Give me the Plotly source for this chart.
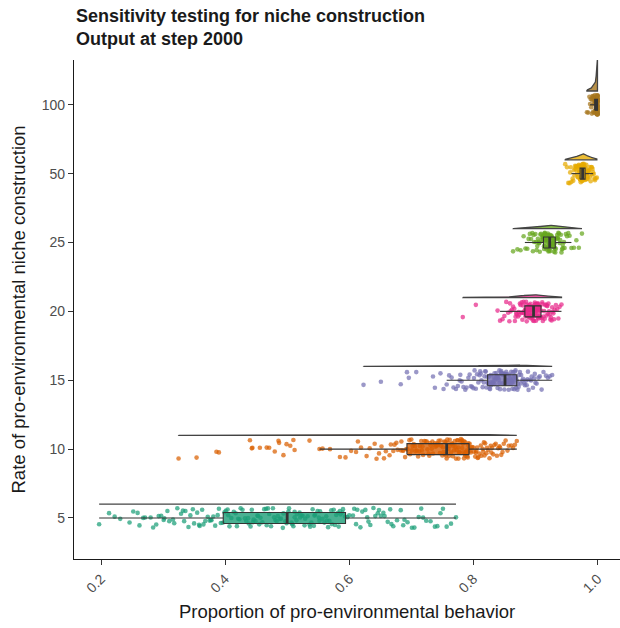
import numpy as np
import plotly.graph_objects as go

categories = ["5", "10", "15", "20", "25", "50", "100"]
colors = ["#1B9E77", "#D95F02", "#7570B3", "#E7298A", "#66A61E", "#E6AB02", "#A6761D"]

# boxplot statistics
box_lower = [0.197, 0.552, 0.757, 0.843, 0.883, 0.958, 0.988]
box_q1 = [0.397, 0.693, 0.823, 0.883, 0.913, 0.972, 0.9955]
box_median = [0.500, 0.757, 0.851, 0.897, 0.923, 0.976, 0.998]
box_q3 = [0.594, 0.793, 0.870, 0.909, 0.932, 0.980, 1.000]
box_upper = [0.772, 0.870, 0.927, 0.942, 0.958, 0.993, 1.000]

# individual runs (proportion of pro-environmental behavior), estimated
g5 = [0.197, 0.213, 0.222, 0.231, 0.246, 0.252, 0.259, 0.268, 0.271, 0.280, 0.284, 0.293, 0.297, 0.301, 0.307,
      0.310, 0.316, 0.318, 0.323, 0.329, 0.332, 0.336, 0.341, 0.344, 0.348, 0.350, 0.355, 0.358, 0.363, 0.365,
      0.368, 0.372, 0.375, 0.377, 0.381, 0.384, 0.388, 0.390, 0.393, 0.396, 0.399, 0.401, 0.405, 0.407, 0.410,
      0.414, 0.417, 0.419, 0.423, 0.425, 0.428, 0.432, 0.434, 0.437, 0.441, 0.443, 0.445, 0.449, 0.452, 0.453,
      0.457, 0.460, 0.463, 0.466, 0.467, 0.471, 0.474, 0.477, 0.479, 0.481, 0.485, 0.488, 0.490, 0.493, 0.494,
      0.497, 0.499, 0.502, 0.503, 0.507, 0.510, 0.512, 0.515, 0.516, 0.520, 0.523, 0.525, 0.528, 0.529, 0.533,
      0.536, 0.539, 0.541, 0.544, 0.545, 0.549, 0.552, 0.553, 0.557, 0.560, 0.563, 0.566, 0.568, 0.571, 0.572,
      0.575, 0.579, 0.582, 0.583, 0.586, 0.590, 0.593, 0.597, 0.600, 0.606, 0.608, 0.613, 0.618, 0.621, 0.626,
      0.631, 0.634, 0.639, 0.642, 0.646, 0.651, 0.655, 0.657, 0.662, 0.668, 0.671, 0.677, 0.683, 0.689, 0.694,
      0.701, 0.705, 0.712, 0.719, 0.724, 0.731, 0.738, 0.742, 0.751, 0.757, 0.764, 0.772,
      0.302, 0.334, 0.359, 0.378, 0.404, 0.421, 0.438, 0.455, 0.469, 0.483, 0.508, 0.521, 0.537, 0.551, 0.564,
      0.577, 0.589, 0.611, 0.629, 0.648, 0.666, 0.687, 0.716, 0.747, 0.262, 0.289, 0.446, 0.512, 0.543, 0.585]
g10 = [0.325, 0.354, 0.386, 0.390, 0.440, 0.443, 0.444, 0.456, 0.467, 0.471, 0.480, 0.486, 0.487, 0.494, 0.499,
       0.505, 0.510, 0.512, 0.536, 0.552, 0.557, 0.569, 0.585, 0.594, 0.603, 0.614, 0.619, 0.628, 0.633, 0.641,
       0.644, 0.652, 0.656, 0.659, 0.665, 0.667, 0.673, 0.676, 0.678, 0.683, 0.686, 0.687, 0.690, 0.692, 0.694,
       0.697, 0.698, 0.700, 0.702, 0.704, 0.706, 0.707, 0.709, 0.711, 0.713, 0.714, 0.716, 0.718, 0.719, 0.721,
       0.723, 0.725, 0.726, 0.728, 0.730, 0.731, 0.733, 0.735, 0.736, 0.738, 0.739, 0.741, 0.742, 0.744, 0.746,
       0.747, 0.748, 0.750, 0.751, 0.753, 0.754, 0.755, 0.756, 0.757, 0.758, 0.759, 0.760, 0.762, 0.762, 0.764,
       0.765, 0.766, 0.767, 0.768, 0.769, 0.771, 0.772, 0.773, 0.774, 0.775, 0.776, 0.777, 0.778, 0.779, 0.780,
       0.781, 0.782, 0.782, 0.784, 0.785, 0.785, 0.786, 0.787, 0.788, 0.789, 0.789, 0.790, 0.791, 0.791, 0.792,
       0.792, 0.793, 0.794, 0.796, 0.797, 0.798, 0.800, 0.801, 0.803, 0.804, 0.805, 0.807, 0.808, 0.810, 0.812,
       0.813, 0.815, 0.816, 0.818, 0.819, 0.821, 0.822, 0.824, 0.826, 0.828, 0.830, 0.832, 0.834, 0.836, 0.838,
       0.840, 0.842, 0.845, 0.847, 0.849, 0.852, 0.855, 0.857, 0.861, 0.864, 0.867, 0.870,
       0.611, 0.648, 0.671, 0.684, 0.701, 0.717, 0.729, 0.743, 0.761, 0.770, 0.783, 0.795, 0.806, 0.817, 0.829,
       0.843, 0.776, 0.787, 0.752, 0.734]
g15 = [0.623, 0.651, 0.683, 0.693, 0.696, 0.708, 0.735, 0.738, 0.747, 0.752, 0.757, 0.761, 0.765, 0.768, 0.772,
       0.775, 0.778, 0.781, 0.784, 0.787, 0.789, 0.792, 0.794, 0.796, 0.798, 0.800, 0.802, 0.804, 0.806, 0.808,
       0.810, 0.812, 0.813, 0.815, 0.817, 0.818, 0.820, 0.821, 0.822, 0.823, 0.824, 0.825, 0.826, 0.827, 0.828,
       0.829, 0.830, 0.831, 0.832, 0.833, 0.834, 0.835, 0.836, 0.837, 0.837, 0.838, 0.839, 0.840, 0.841, 0.842,
       0.842, 0.843, 0.844, 0.845, 0.846, 0.846, 0.847, 0.848, 0.849, 0.850, 0.850, 0.851, 0.852, 0.852, 0.853,
       0.854, 0.854, 0.855, 0.856, 0.856, 0.857, 0.858, 0.858, 0.859, 0.860, 0.860, 0.861, 0.862, 0.862, 0.863,
       0.864, 0.864, 0.865, 0.866, 0.866, 0.867, 0.868, 0.868, 0.869, 0.870, 0.871, 0.872, 0.873, 0.875, 0.876,
       0.877, 0.879, 0.880, 0.882, 0.883, 0.885, 0.886, 0.888, 0.889, 0.891, 0.893, 0.894, 0.896, 0.898, 0.900,
       0.902, 0.905, 0.907, 0.910, 0.913, 0.917, 0.920, 0.923, 0.927,
       0.779, 0.801, 0.819, 0.834, 0.845, 0.853, 0.862, 0.874, 0.887, 0.899, 0.811, 0.828, 0.839, 0.857, 0.869]
g20 = [0.783, 0.804, 0.839, 0.843, 0.847, 0.850, 0.853, 0.856, 0.858, 0.860, 0.862, 0.864, 0.866, 0.867, 0.869,
       0.870, 0.872, 0.873, 0.874, 0.875, 0.876, 0.877, 0.878, 0.879, 0.880, 0.881, 0.881, 0.882, 0.883, 0.883,
       0.884, 0.885, 0.885, 0.886, 0.886, 0.887, 0.888, 0.888, 0.889, 0.889, 0.890, 0.890, 0.891, 0.891, 0.892,
       0.892, 0.893, 0.893, 0.894, 0.894, 0.895, 0.895, 0.896, 0.896, 0.897, 0.897, 0.898, 0.898, 0.899, 0.899,
       0.900, 0.900, 0.901, 0.901, 0.902, 0.902, 0.903, 0.903, 0.904, 0.904, 0.905, 0.905, 0.906, 0.906, 0.907,
       0.907, 0.908, 0.908, 0.909, 0.910, 0.911, 0.912, 0.913, 0.914, 0.915, 0.916, 0.917, 0.918, 0.919, 0.920,
       0.921, 0.922, 0.923, 0.924, 0.925, 0.926, 0.927, 0.928, 0.930, 0.931, 0.933, 0.935, 0.937, 0.939, 0.942,
       0.868, 0.879, 0.887, 0.893, 0.899, 0.904, 0.911, 0.919, 0.929, 0.859]
g25 = [0.864, 0.871, 0.876, 0.881, 0.884, 0.887, 0.889, 0.891, 0.893, 0.895, 0.897, 0.898, 0.900, 0.901, 0.903,
       0.904, 0.905, 0.906, 0.907, 0.908, 0.909, 0.910, 0.911, 0.912, 0.912, 0.913, 0.914, 0.914, 0.915, 0.915,
       0.916, 0.916, 0.917, 0.917, 0.918, 0.918, 0.919, 0.919, 0.920, 0.920, 0.921, 0.921, 0.922, 0.922, 0.923,
       0.923, 0.924, 0.924, 0.925, 0.925, 0.926, 0.926, 0.927, 0.927, 0.928, 0.928, 0.929, 0.929, 0.930, 0.930,
       0.931, 0.931, 0.932, 0.933, 0.934, 0.935, 0.936, 0.937, 0.938, 0.939, 0.940, 0.941, 0.942, 0.943, 0.944,
       0.946, 0.947, 0.949, 0.951, 0.953, 0.955, 0.958, 0.962, 0.966, 0.970, 0.975,
       0.896, 0.906, 0.913, 0.918, 0.924, 0.929, 0.936, 0.944, 0.902, 0.931]
g50 = [0.948, 0.951, 0.953, 0.955, 0.957, 0.958, 0.960, 0.961, 0.962, 0.963, 0.964, 0.965, 0.966, 0.966, 0.967,
       0.968, 0.968, 0.969, 0.970, 0.970, 0.971, 0.971, 0.972, 0.972, 0.972, 0.973, 0.973, 0.973, 0.974, 0.974,
       0.974, 0.975, 0.975, 0.975, 0.975, 0.976, 0.976, 0.976, 0.976, 0.977, 0.977, 0.977, 0.977, 0.978, 0.978,
       0.978, 0.979, 0.979, 0.979, 0.980, 0.980, 0.980, 0.981, 0.981, 0.982, 0.982, 0.983, 0.983, 0.984, 0.985,
       0.985, 0.986, 0.987, 0.988, 0.989, 0.990, 0.991, 0.992, 0.993, 0.995, 0.997, 0.999,
       0.956, 0.964, 0.969, 0.984, 0.987, 0.991, 0.994, 0.996]
g100 = [0.983, 0.985, 0.987, 0.988, 0.989, 0.990, 0.991, 0.991, 0.992, 0.992, 0.993, 0.993, 0.994, 0.994, 0.994,
        0.995, 0.995, 0.995, 0.996, 0.996, 0.996, 0.997, 0.997, 0.997, 0.997, 0.998, 0.998, 0.998, 0.998, 0.998,
        0.999, 0.999, 0.999, 0.999, 0.999, 0.999, 1.000, 1.000, 1.000, 1.000, 1.000, 1.000, 1.000, 1.000, 1.000,
        1.000, 1.000, 1.000, 1.000, 1.000, 1.000, 1.000, 1.000, 1.000, 1.000, 1.000, 1.000, 1.000, 1.000, 1.000,
        1.000, 1.000, 1.000, 1.000, 1.000, 1.000, 1.000, 1.000, 1.000, 1.000, 1.000, 1.000]
groups = [g5, g10, g15, g20, g25, g50, g100]


def rgba(hex_color, a):
    h = hex_color.lstrip("#")
    r, g, b = int(h[0:2], 16), int(h[2:4], 16), int(h[4:6], 16)
    return f"rgba({r},{g},{b},{a})"


def kde(values, grid):
    v = np.asarray(values, dtype=float)
    n = len(v)
    sd = v.std(ddof=1)
    iqr = np.subtract(*np.percentile(v, [75, 25]))
    lo = min(sd, iqr / 1.34) if iqr > 0 else sd
    bw = 0.9 * lo * n ** (-0.2)
    z = (grid[:, None] - v[None, :]) / bw
    return np.exp(-0.5 * z ** 2).sum(axis=1) / (n * bw * np.sqrt(2 * np.pi))


VIOLIN_NUDGE = 0.2
VIOLIN_MAX = 0.45
BOX_HALF = 0.08
JITTER = 0.145

grids, dens = [], []
for vals in groups:
    gx = np.linspace(min(vals), max(vals), 400)
    grids.append(gx)
    dens.append(kde(vals, gx))
dmax = max(d.max() for d in dens)

fig = go.Figure()

# flat (half) violins
for i, (gx, d) in enumerate(zip(grids, dens)):
    base = i + 1 + VIOLIN_NUDGE
    h = d / dmax * VIOLIN_MAX
    xs = np.concatenate([gx, gx[::-1], gx[:1]])
    ys = np.concatenate([base + h, np.full(len(gx), base), [base + h[0]]])
    fig.add_trace(go.Scatter(x=xs, y=ys, mode="lines", fill="toself",
                             fillcolor=rgba(colors[i], 0.8),
                             line=dict(color="#444444", width=1.3),
                             hoverinfo="skip", showlegend=False))

# jittered points (deterministic hash-based jitter)
for i, vals in enumerate(groups):
    k = np.arange(len(vals), dtype=float)
    u = np.sin(k * 12.9898 + (i + 1) * 78.233) * 43758.5453
    u = u - np.floor(u)
    offs = (u - 0.5) * 2 * JITTER
    fig.add_trace(go.Scatter(x=vals, y=i + 1 + offs, mode="markers",
                             marker=dict(color=colors[i], size=4.6, opacity=0.72, line=dict(width=0)),
                             showlegend=False, hoverinfo="skip"))

# boxplots
for i in range(len(categories)):
    y0 = i + 1
    fig.add_trace(go.Scatter(x=[box_lower[i], box_q1[i], None, box_q3[i], box_upper[i]],
                             y=[y0, y0, None, y0, y0], mode="lines",
                             line=dict(color="#333333", width=1.1),
                             showlegend=False, hoverinfo="skip"))
    fig.add_trace(go.Scatter(x=[box_q1[i], box_q3[i], box_q3[i], box_q1[i], box_q1[i]],
                             y=[y0 - BOX_HALF, y0 - BOX_HALF, y0 + BOX_HALF, y0 + BOX_HALF, y0 - BOX_HALF],
                             mode="lines", fill="toself", fillcolor=rgba(colors[i], 0.8),
                             line=dict(color="#333333", width=1.1),
                             showlegend=False, hoverinfo="skip"))
    fig.add_trace(go.Scatter(x=[box_median[i], box_median[i]], y=[y0 - BOX_HALF, y0 + BOX_HALF],
                             mode="lines", line=dict(color="#333333", width=2.8),
                             showlegend=False, hoverinfo="skip"))

FONT = "Liberation Sans, Arial, sans-serif"
PLOT_TOP, PLOT_BOTTOM, PLOT_LEFT, PLOT_W = 60, 559, 74, 546
PLOT_H = PLOT_BOTTOM - PLOT_TOP


def ypaper(px):
    return (PLOT_BOTTOM - px) / PLOT_H


fig.update_layout(
    width=620, height=628,
    margin=dict(l=PLOT_LEFT, r=0, t=PLOT_TOP, b=628 - PLOT_BOTTOM),
    paper_bgcolor="white", plot_bgcolor="white",
    font=dict(family=FONT, color="#1a1a1a"),
    xaxis=dict(range=[0.1565, 1.0363], tickvals=[0.2, 0.4, 0.6, 0.8, 1.0],
               ticktext=["0.2", "0.4", "0.6", "0.8", "1.0"], tickangle=-45,
               showgrid=False, zeroline=False, showline=True, linecolor="#1a1a1a", linewidth=1.4,
               ticks="outside", ticklen=5, tickwidth=1.2, tickcolor="#333333",
               tickfont=dict(size=14, color="#4d4d4d")),
    yaxis=dict(range=[0.404, 7.65], tickvals=list(range(1, 8)), ticktext=categories,
               showgrid=False, zeroline=False, showline=True, linecolor="#1a1a1a", linewidth=1.4,
               ticks="outside", ticklen=5, tickwidth=1.2, tickcolor="#333333",
               tickfont=dict(size=14, color="#4d4d4d")),
    annotations=[
        dict(text="<b>Sensitivity testing for niche construction<br>Output at step 2000</b>",
             xref="paper", yref="paper", x=0, y=ypaper(28), xanchor="left", yanchor="middle",
             align="left", showarrow=False,
             font=dict(size=18, family=FONT, color="#1a1a1a")),
        dict(text="Proportion of pro-environmental behavior", xref="paper", yref="paper",
             x=0.5, y=ypaper(611), xanchor="center", yanchor="middle", showarrow=False,
             font=dict(size=18.5, family=FONT, color="#1a1a1a")),
        dict(text="Rate of pro-environmental niche construction", xref="paper", yref="paper",
             x=(18 - PLOT_LEFT) / PLOT_W, y=0.5, xanchor="center", yanchor="middle", textangle=-90,
             showarrow=False, font=dict(size=18.5, family=FONT, color="#1a1a1a")),
    ],
)

fig.write_html("out.html")
